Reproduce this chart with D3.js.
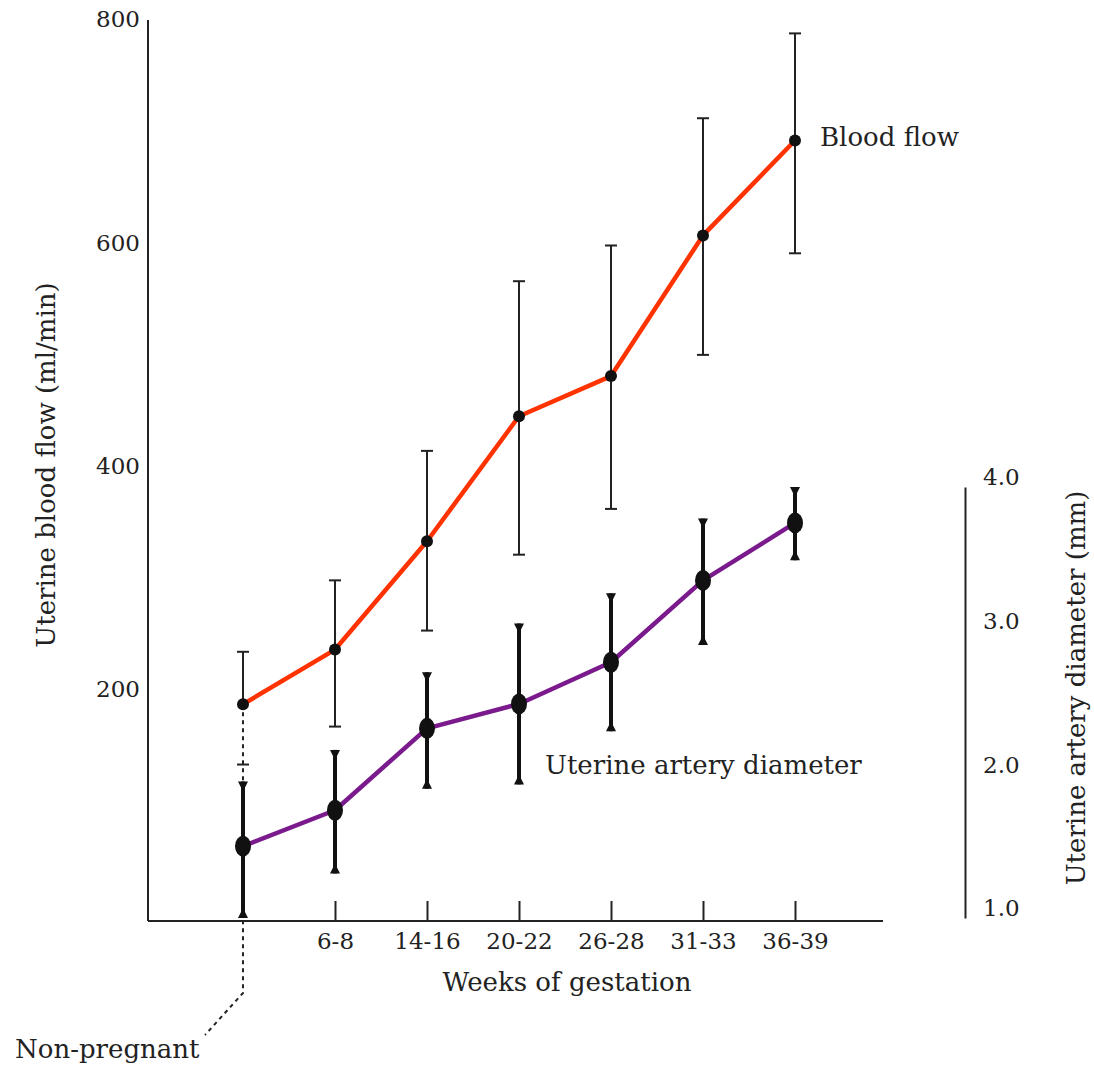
<!DOCTYPE html>
<html>
<head>
<meta charset="utf-8">
<script src="https://cdn.jsdelivr.net/npm/d3@7"></script>
<style>
  body { margin: 0; background: #fff; }
  text { font-family: "DejaVu Serif", serif; fill: #222; }
</style>
</head>
<body>
<div id="chart"></div>
<script>
// data
var weeks = ["Non-pregnant", "6-8", "14-16", "20-22", "26-28", "31-33", "36-39"];
var flowMean = [187, 236, 333, 445, 481, 607, 692];
var flowLow  = [133, 167, 253, 321, 362, 500, 591];
var flowHigh = [234, 298, 414, 566, 598, 712, 788];
var diaMean = [1.50, 1.75, 2.32, 2.49, 2.78, 3.35, 3.75];
var diaLow  = [1.00, 1.31, 1.90, 1.93, 2.30, 2.90, 3.49];
var diaHigh = [1.95, 2.17, 2.71, 3.05, 3.26, 3.78, 4.00];
var flowTicks = [200, 400, 600, 800];
var diaTicks = [1, 2, 3, 4];

var W = 1094, H = 1066;
var svg = d3.select("#chart").append("svg")
    .attr("width", W)
    .attr("height", H);

var axisX = 148, axisBottom = 921, axisRight = 883;
var numSize = "23px", wordSize = "26px";

var x = d3.scalePoint()
    .domain(weeks)
    .range([243, 795]);

var yFlow = d3.scaleLinear()
    .domain([0, 800])
    .range([913, 20]);

var yDia = d3.scaleLinear()
    .domain([1, 4])
    .range([918, 487]);

// axes lines
svg.append("line")
    .attr("x1", axisX).attr("x2", axisX)
    .attr("y1", yFlow(800)).attr("y2", axisBottom)
    .attr("stroke", "#222").attr("stroke-width", 2);

svg.append("line")
    .attr("x1", axisX).attr("x2", axisRight)
    .attr("y1", axisBottom).attr("y2", axisBottom)
    .attr("stroke", "#222").attr("stroke-width", 2);

var xAxis = d3.axisBottom(x)
    .tickValues(weeks.slice(1))
    .tickSizeInner(-20)
    .tickSizeOuter(0)
    .tickPadding(10);

var gx = svg.append("g")
    .attr("transform", "translate(0," + axisBottom + ")")
    .call(xAxis);
gx.select(".domain").remove();
gx.selectAll(".tick line").attr("stroke", "#222").attr("stroke-width", 2);
gx.selectAll("text")
    .attr("y", 12)
    .style("font-size", numSize)
    .style("font-family", "DejaVu Serif")
    .attr("fill", "#222");

var yAxisL = d3.axisLeft(yFlow)
    .tickValues(flowTicks)
    .tickSize(0)
    .tickPadding(8);

var gl = svg.append("g")
    .attr("transform", "translate(" + axisX + ",0)")
    .call(yAxisL);
gl.select(".domain").remove();
gl.selectAll("text")
    .attr("dy", "0.3em")
    .style("font-size", numSize)
    .style("font-family", "DejaVu Serif")
    .attr("fill", "#222");

var yAxisR = d3.axisRight(yDia)
    .tickValues(diaTicks)
    .tickSize(0)
    .tickPadding(18)
    .tickFormat(d3.format(".1f"));

var gr = svg.append("g")
    .attr("transform", "translate(965,0)")
    .call(yAxisR);
gr.select(".domain").attr("stroke", "#222").attr("stroke-width", 2);
gr.selectAll("text")
    .attr("dy", "-0.1em")
    .style("font-size", numSize)
    .style("font-family", "DejaVu Serif")
    .attr("fill", "#222");

// axis titles
svg.append("text")
    .attr("transform", "translate(46,465) rotate(-90)")
    .attr("text-anchor", "middle")
    .attr("dy", "0.35em")
    .style("font-size", wordSize)
    .text("Uterine blood flow (ml/min)");

svg.append("text")
    .attr("transform", "translate(1076,688) rotate(-90)")
    .attr("text-anchor", "middle")
    .attr("dy", "0.35em")
    .style("font-size", wordSize)
    .text("Uterine artery diameter (mm)");

svg.append("text")
    .attr("x", 567).attr("y", 991)
    .attr("text-anchor", "middle")
    .style("font-size", wordSize)
    .text("Weeks of gestation");

// non-pregnant pointer
var npX = x(weeks[0]);
svg.append("path")
    .attr("d", "M" + npX + "," + yFlow(flowMean[0]) + " L" + npX + "," + 993 + " L" + 205 + "," + 1035)
    .attr("fill", "none")
    .attr("stroke", "#222")
    .attr("stroke-width", 2)
    .attr("stroke-dasharray", "4,4");

svg.append("text")
    .attr("x", 15).attr("y", 1058)
    .style("font-size", wordSize)
    .text("Non-pregnant");

// blood flow error bars
var flowData = weeks.map(function (w, i) {
    return {w: w, mean: flowMean[i], lo: flowLow[i], hi: flowHigh[i], i: i};
});
var diaData = weeks.map(function (w, i) {
    return {w: w, mean: diaMean[i], lo: diaLow[i], hi: diaHigh[i], i: i};
});

var fb = svg.append("g");
fb.selectAll(".fbar-up")
    .data(flowData)
    .enter()
    .append("line")
    .attr("x1", function (d) { return x(d.w); })
    .attr("x2", function (d) { return x(d.w); })
    .attr("y1", function (d) { return yFlow(d.hi); })
    .attr("y2", function (d) { return yFlow(d.mean); })
    .attr("stroke", "#222").attr("stroke-width", 2);

// lower half; the non-pregnant one sits under the dotted pointer
fb.selectAll(".fbar-down")
    .data(flowData.slice(1))
    .enter()
    .append("line")
    .attr("x1", function (d) { return x(d.w); })
    .attr("x2", function (d) { return x(d.w); })
    .attr("y1", function (d) { return yFlow(d.mean); })
    .attr("y2", function (d) { return yFlow(d.lo); })
    .attr("stroke", "#222").attr("stroke-width", 2);

fb.selectAll(".fcap")
    .data(flowData.flatMap(function (d) { return [{w: d.w, v: d.hi}, {w: d.w, v: d.lo}]; }))
    .enter()
    .append("line")
    .attr("x1", function (d) { return x(d.w) - 6; })
    .attr("x2", function (d) { return x(d.w) + 6; })
    .attr("y1", function (d) { return yFlow(d.v); })
    .attr("y2", function (d) { return yFlow(d.v); })
    .attr("stroke", "#222").attr("stroke-width", 2);

// diameter error bars
var db = svg.append("g");
db.selectAll(".dbar")
    .data(diaData)
    .enter()
    .append("line")
    .attr("x1", function (d) { return x(d.w); })
    .attr("x2", function (d) { return x(d.w); })
    .attr("y1", function (d) { return yDia(d.hi); })
    .attr("y2", function (d) { return yDia(d.lo); })
    .attr("stroke", "#111").attr("stroke-width", 4);

db.selectAll(".dcap-top")
    .data(diaData)
    .enter()
    .append("path")
    .attr("d", function (d) {
        var cx = x(d.w), cy = yDia(d.hi);
        return "M" + (cx - 5) + "," + cy + "L" + (cx + 5) + "," + cy + "L" + cx + "," + (cy + 10) + "Z";
    })
    .attr("fill", "#111");

db.selectAll(".dcap-bot")
    .data(diaData)
    .enter()
    .append("path")
    .attr("d", function (d) {
        var cx = x(d.w), cy = yDia(d.lo);
        return "M" + (cx - 5) + "," + cy + "L" + (cx + 5) + "," + cy + "L" + cx + "," + (cy - 10) + "Z";
    })
    .attr("fill", "#111");

// lines
var flowLine = d3.line()
    .x(function (d) { return x(d.w); })
    .y(function (d) { return yFlow(d.mean); });

var diaLine = d3.line()
    .x(function (d) { return x(d.w); })
    .y(function (d) { return yDia(d.mean); });

svg.append("path")
    .datum(flowData)
    .attr("d", flowLine)
    .attr("fill", "none")
    .attr("stroke", "#ff3300")
    .attr("stroke-width", 4.5)
    .attr("stroke-linejoin", "round");

svg.append("path")
    .datum(diaData)
    .attr("d", diaLine)
    .attr("fill", "none")
    .attr("stroke", "#7a1a8c")
    .attr("stroke-width", 4.5)
    .attr("stroke-linejoin", "round");

// points
svg.selectAll(".fdot")
    .data(flowData)
    .enter()
    .append("circle")
    .attr("cx", function (d) { return x(d.w); })
    .attr("cy", function (d) { return yFlow(d.mean); })
    .attr("r", 6)
    .attr("fill", "#111");

svg.selectAll(".ddot")
    .data(diaData)
    .enter()
    .append("ellipse")
    .attr("cx", function (d) { return x(d.w); })
    .attr("cy", function (d) { return yDia(d.mean); })
    .attr("rx", 8)
    .attr("ry", 10.5)
    .attr("fill", "#111");

// series labels
svg.append("text")
    .attr("x", 820).attr("y", 146)
    .style("font-size", wordSize)
    .text("Blood flow");

svg.append("text")
    .attr("x", 545).attr("y", 774)
    .style("font-size", wordSize)
    .text("Uterine artery diameter");
</script>
</body>
</html>
